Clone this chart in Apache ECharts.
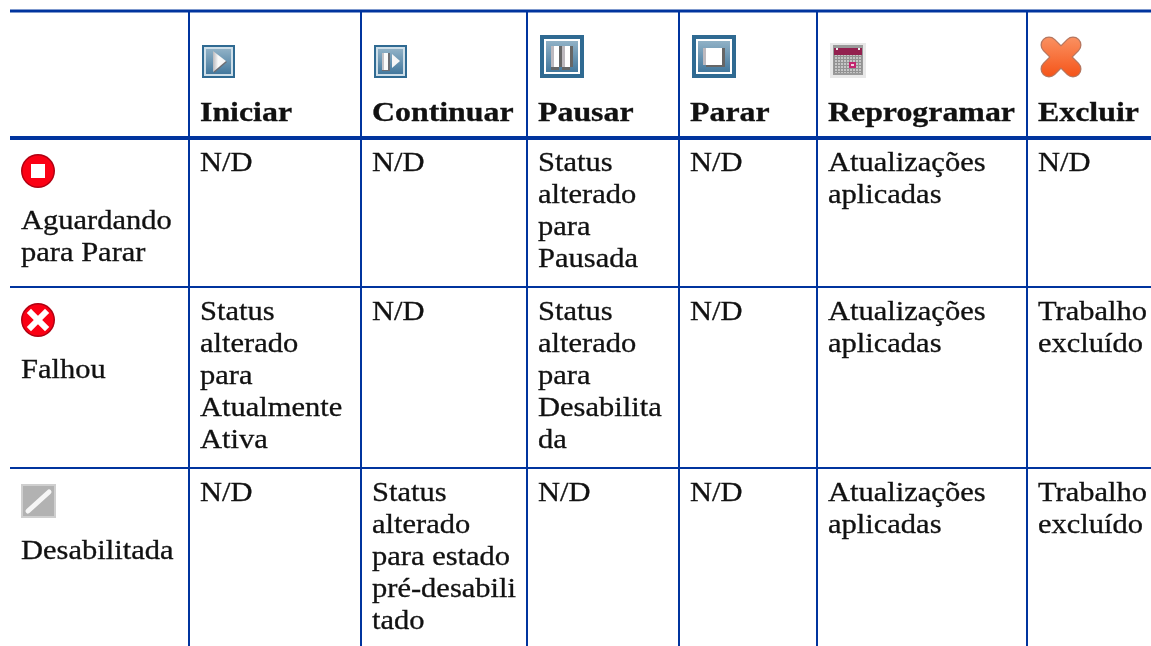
<!DOCTYPE html>
<html>
<head>
<meta charset="utf-8">
<style>
html, body { margin: 0; padding: 0; background: #fff; overflow: hidden; }
#main { width: 1151px; height: 646px; }
</style>
<script src="https://cdn.jsdelivr.net/npm/echarts@6/dist/echarts.min.js"></script>
</head>
<body>
<div id="main"></div>
<script>
// dados da tabela
const columns = ['Status', 'Iniciar', 'Continuar', 'Pausar', 'Parar', 'Reprogramar', 'Excluir'];
const rows = ['Cabeçalho', 'Aguardando para Parar', 'Falhou', 'Desabilitada'];
const rowLabels = ['Aguardando\npara Parar', 'Falhou', 'Desabilitada'];
const columnIcons = ['', 'play', 'resume', 'pause', 'stop', 'calendar', 'cross'];
const rowIcons = ['redStop', 'redCross', 'disabled'];
const waitingValues = ['N/D', 'N/D', 'Status\nalterado\npara\nPausada', 'N/D', 'Atualizações\naplicadas', 'N/D'];
const failedValues = ['Status\nalterado\npara\nAtualmente\nAtiva', 'N/D', 'Status\nalterado\npara\nDesabilita\nda', 'N/D', 'Atualizações\naplicadas', 'Trabalho\nexcluído'];
const disabledValues = ['N/D', 'Status\nalterado\npara estado\npré-desabili\ntado', 'N/D', 'N/D', 'Atualizações\naplicadas', 'Trabalho\nexcluído'];
const bodyValues = [waitingValues, failedValues, disabledValues];

// layout
const columnWidths = [179, 172, 166, 152, 138, 210, 124];
const rowHeights = [127, 149, 181, 199];
const BLUE = '#00349e';
const TEXT = '#111';
const SERIF = '"Liberation Serif"';

const cells = [];
rows.forEach((r, j) => {
    columns.forEach((c, i) => {
        let text = '', icon = '';
        if (j === 0) {
            text = i === 0 ? '' : c;
            icon = columnIcons[i];
        } else if (i === 0) {
            text = rowLabels[j - 1];
            icon = rowIcons[j - 1];
        } else {
            text = bodyValues[j - 1][i - 1];
        }
        cells.push({ value: [c, r], text: text, icon: icon, col: i, row: j });
    });
});

function line(x1, y1, x2, y2, width) {
    return { type: 'line', shape: { x1, y1, x2, y2 }, style: { stroke: BLUE, lineWidth: width } };
}

function stroke(x1, y1, x2, y2, width, color, cap) {
    return { type: 'line', shape: { x1, y1, x2, y2 }, style: { stroke: color, lineWidth: width, lineCap: cap || 'round' } };
}

function rect(x, y, w, h, fill) {
    return { type: 'rect', shape: { x, y, width: w, height: h }, style: { fill: fill } };
}

function vGrad(a, b) {
    return new echarts.graphic.LinearGradient(0, 0, 0, 1, [{ offset: 0, color: a }, { offset: 1, color: b }]);
}

function poly(points, fill) {
    return { type: 'polygon', shape: { points }, style: { fill: fill } };
}

// botao azul: moldura escura, filete claro e fundo em degrade
function blueButton(w, h, frame, gap, gapColor) {
    const t = frame + gap;
    return [
        rect(0, 0, w, h, '#2f6a92'),
        rect(frame, frame, w - frame * 2, h - frame * 2, gapColor),
        rect(t, t, w - t * 2, h - t * 2, vGrad('#90b1c6', '#43789d'))
    ];
}

const redDisc = () => [
    { type: 'circle', shape: { cx: 17, cy: 17, r: 17 }, style: { fill: '#b00012' } },
    { type: 'circle', shape: { cx: 17, cy: 17, r: 15.5 }, style: { fill: '#fb0014' } }
];

const icons = {
    play: () => ({ w: 33, h: 33, children: blueButton(33, 33, 2, 2, '#cfdfe9').concat([
        poly([[11, 7], [25, 17], [12, 28]], '#6d6d72'),
        poly([[11, 6], [24, 16], [11, 27]], new echarts.graphic.LinearGradient(0, 0, 1, 0, [{ offset: 0, color: '#b9b9bd' }, { offset: 0.4, color: '#fafafa' }, { offset: 1, color: '#f4f4f4' }]))
    ]) }),
    resume: () => ({ w: 33, h: 33, children: blueButton(33, 33, 2, 2, '#cfdfe9').concat([
        rect(8, 8, 8, 18, '#6d6d72'),
        rect(8, 8, 2, 17, '#c4c2c6'),
        rect(10, 8, 4, 17, '#fafafa'),
        poly([[18, 9], [26, 16], [18, 23]], '#f6f6f6')
    ]) }),
    pause: () => ({ w: 44, h: 43, children: blueButton(44, 43, 4, 2, '#fff').concat([
        rect(11, 32, 8, 3, '#666'),
        rect(22, 32, 8, 3, '#666'),
        rect(11, 11, 3, 21, '#bdb9be'),
        rect(14, 11, 5, 21, '#fff'),
        rect(19, 11, 3, 21, '#666'),
        rect(22, 11, 3, 21, '#bdb9be'),
        rect(25, 11, 5, 21, '#fff'),
        rect(30, 11, 3, 21, '#666')
    ]) }),
    stop: () => ({ w: 44, h: 43, children: blueButton(44, 43, 4, 2, '#fff').concat([
        rect(14, 30, 16, 2, '#666'),
        rect(11, 13, 3, 17, '#bdb9be'),
        rect(14, 13, 16, 17, '#fff'),
        rect(30, 13, 3, 19, '#666')
    ]) }),
    calendar: () => ({ w: 36, h: 35, children: (() => {
        const out = [rect(0, 0, 36, 35, '#e8e8e8'), rect(3, 2, 30, 30, '#9a9a9a'), rect(4, 11, 28, 19, '#c6c6c6')];
        for (let i = 0; i < 10; i++) {
            out.push(rect(4 + i * 3, 12, 1, 18, '#929292'));
        }
        for (let i = 0; i < 6; i++) {
            out.push(rect(4, 13 + i * 3, 28, 1, '#929292'));
        }
        out.push(rect(4, 5, 28, 7, '#93204f'));
        out.push(rect(19, 19, 7, 6, '#c2256e'), rect(21, 21, 3, 2, '#f0d0e0'));
        out.push(rect(6, 5, 2, 2, '#eee'), rect(28, 5, 2, 2, '#eee'));
        return out;
    })() }),
    cross: () => {
        const fill = vGrad('#fa9060', '#f5551a');
        return { w: 42, h: 42, children: [
            stroke(9, 9, 33, 33, 17, '#b5765f'),
            stroke(33, 9, 9, 33, 17, '#b5765f'),
            stroke(9, 9, 33, 33, 14.5, fill),
            stroke(33, 9, 9, 33, 14.5, fill)
        ] };
    },
    redStop: () => ({ w: 34, h: 34, children: redDisc().concat([rect(10, 10, 14, 14, '#fff')]) }),
    redCross: () => ({ w: 34, h: 34, children: redDisc().concat([
        stroke(10, 10, 24, 24, 6, '#fff', 'square'),
        stroke(24, 10, 10, 24, 6, '#fff', 'square')
    ]) }),
    disabled: () => ({ w: 35, h: 34, children: [
        rect(0, 0, 35, 34, '#cfcfcf'),
        rect(2, 2, 31, 30, '#b2b2b2'),
        stroke(7, 27, 28, 8, 5, '#f6f6f6')
    ] })
};

function renderCell(params, api) {
    const item = cells[params.dataIndex];
    const box = api.layout([api.value(0), api.value(1)]).rect;
    const children = [];
    const isHeader = item.row === 0;

    // linhas da grade
    const right = box.x + box.width, bottom = box.y + box.height;
    if (item.col > 0) {
        children.push(line(box.x, box.y, box.x, bottom, 2));
    }
    if (isHeader) {
        children.push(line(box.x, box.y, right, box.y, 3));
        children.push(line(box.x, bottom, right, bottom, 4));
    } else if (item.row < rows.length - 1) {
        children.push(line(box.x, bottom, right, bottom, 2));
    }

    // icone
    if (item.icon) {
        const ic = icons[item.icon]();
        children.push({
            type: 'group',
            x: box.x + (isHeader ? 13 : 11),
            y: isHeader ? box.y + 67 - ic.h : box.y + 16,
            children: ic.children
        });
    }

    // texto
    if (item.text) {
        let ty;
        if (isHeader) ty = box.y + 87;
        else if (item.col === 0) ty = box.y + 68;
        else ty = box.y + 10;
        children.push({
            type: 'text',
            x: box.x + 11,
            y: ty,
            scaleX: isHeader ? 1.18 : 1.13,
            style: {
                text: item.text,
                x: 0, y: 0,
                font: (isHeader ? 'bold ' : '') + '27px ' + SERIF,
                lineHeight: 32,
                fill: TEXT,
                stroke: TEXT,
                lineWidth: 0.3,
                align: 'left',
                verticalAlign: 'top'
            }
        });
    }
    return { type: 'group', children: children };
}

const chart = echarts.init(document.getElementById('main'), null, { renderer: 'canvas' });
chart.setOption({
    animation: false,
    backgroundColor: '#fff',
    matrix: {
        left: 10,
        top: 11,
        width: columnWidths.reduce((a, b) => a + b, 0),
        height: rowHeights.reduce((a, b) => a + b, 0),
        x: { show: false, data: columns.map((c, i) => ({ value: c, size: columnWidths[i] })) },
        y: { show: false, data: rows.map((r, i) => ({ value: r, size: rowHeights[i] })) },
        body: { itemStyle: { borderWidth: 0, color: 'transparent' } },
        backgroundStyle: { borderWidth: 0, color: 'transparent' },
        borderZ2: 0
    },
    series: [{
        type: 'custom',
        coordinateSystem: 'matrix',
        silent: true,
        clip: false,
        encode: { x: 0, y: 1 },
        data: cells,
        renderItem: renderCell
    }]
});
</script>
</body>
</html>
